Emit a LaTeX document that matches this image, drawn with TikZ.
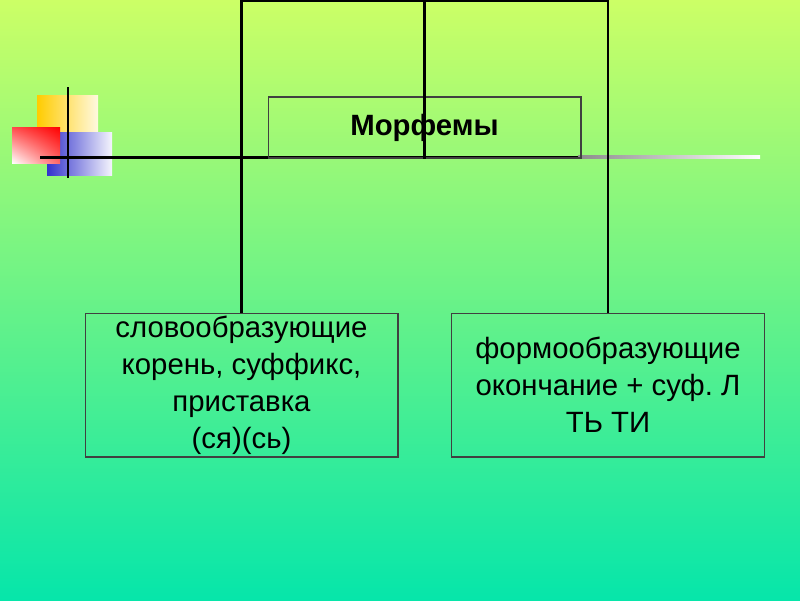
\documentclass[tikz,border=0pt]{standalone}
\usepackage{fontspec}
\setmainfont{Liberation Sans}
\usepackage{tikz}
\usetikzlibrary{positioning,shadings}
\frenchspacing
\definecolor{bgtop}{HTML}{CCFF66}
\definecolor{bgmid}{HTML}{66EE88}
\definecolor{bgbot}{HTML}{06E6AA}
\definecolor{yel}{HTML}{FFCC00}
\definecolor{blu}{HTML}{3333CC}
\definecolor{rd}{HTML}{FF0000}
\tikzset{
  box/.style={draw=black!75,line width=0.6pt,align=center,inner sep=0pt,
    minimum width=6.26cm,minimum height=2.88cm,font=\fontsize{16.7}{21}\selectfont},
  tbox/.style={box,minimum height=1.22cm,font=\fontsize{16.7}{21}\selectfont\bfseries},
  conn/.style={draw=black,line width=1.6pt},
}
\begin{document}
\begin{tikzpicture}[x=0.02cm,y=-0.02cm]
  \useasboundingbox (0,0) rectangle (800,600);
  \shade[top color=bgtop,middle color=bgmid,bottom color=bgbot] (0,0) rectangle (800,600);
  % corner squares
  \shade[left color=yel,middle color=yel!90!white,right color=yel!12!white] (37,95) rectangle (98,150);
  \shade[left color=blu,middle color=blu!85!white,right color=blu!5!white] (47,132) rectangle (112,175);
  \shade[upper left=rd!70!white,upper right=rd,lower left=white,lower right=rd!60!white] (12,127) rectangle (60,163);
  \fill[black] (40,155.5) rectangle (578,158.5);
  \shade[left color=black!45,right color=white] (578,155.5) rectangle (760,158.5);
  \coordinate (vt) at (68,87);
  \coordinate (vb) at (68,178);
  \draw[conn] (vt) -- (vb);
  % boxes
  \node[tbox] (m) at (424.5,127.5) {Морфемы};
  \node[box] (s) at (241.5,385) {словообразующие\\корень, суффикс,\\приставка\\(ся)(сь)};
  \node[box] (f) at (608,385) {формообразующие\\окончание + суф. Л\\ТЬ ТИ};
  \coordinate (top) at (424.5,1);
  \draw[conn] (m.south) -- (top) -| (s.north);
  \draw[conn] (top) -| (f.north);
\end{tikzpicture}
\end{document}
